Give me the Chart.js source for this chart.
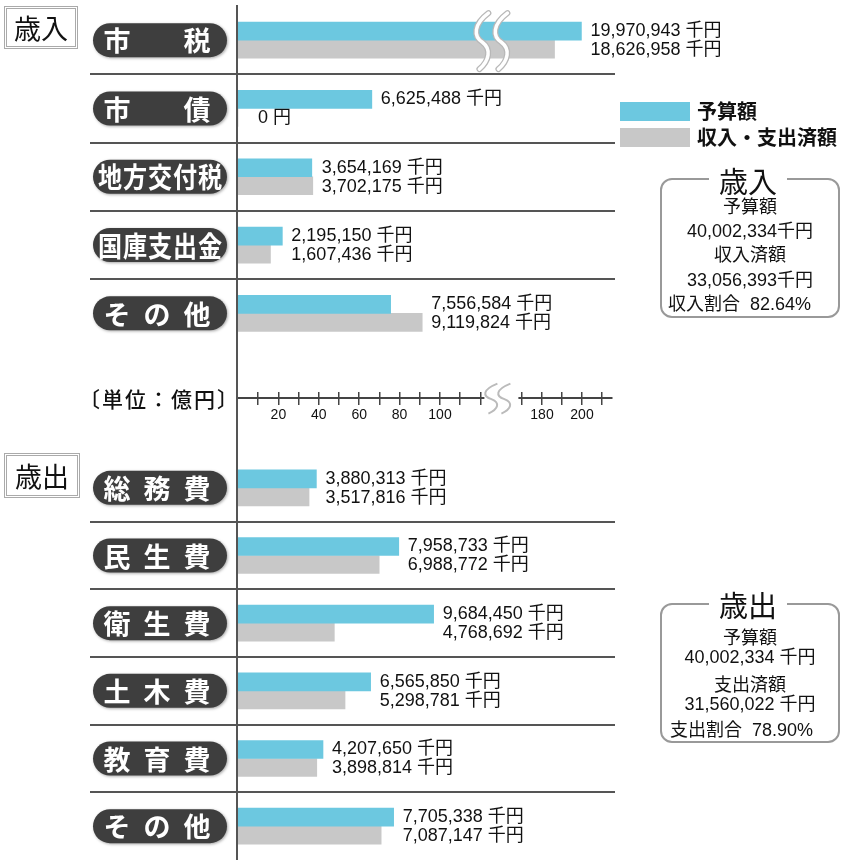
<!DOCTYPE html>
<html lang="ja">
<head>
<meta charset="utf-8">
<title>歳入・歳出</title>
<script src="https://cdn.jsdelivr.net/npm/chart.js@4.4.1/dist/chart.umd.min.js"></script>
<style>
	body { margin: 0; width: 845px; height: 860px; overflow: hidden; background: #fff; color: #111;
		font-family: "Liberation Sans", "Noto Sans CJK JP", sans-serif; }
	canvas { position: absolute; left: 0; }
	#revenueChart { top: 0; }
	#expenseChart { top: 450px; }
	.abs { position: absolute; white-space: pre; }
	.tag { position: absolute; left: 4px; box-sizing: border-box; border: 3px double #aaa; text-align: center;
		font: 27px "Noto Sans CJK JP"; }
	.swatch { position: absolute; left: 620px; width: 70px; height: 19px; }
	.legtext { position: absolute; left: 697px; font: bold 20px "Noto Sans CJK JP"; line-height: 24px; }
	.box { position: absolute; left: 660px; width: 180px; box-sizing: border-box; border: 2px solid #999;
		border-radius: 12px; }
	.boxtitle { position: absolute; font: 29px "Noto Sans CJK JP"; line-height: 30px; background: #fff; padding: 0 10px;
		transform: translateX(-50%); left: 748px; }
	.boxline { position: absolute; left: 660px; width: 180px; text-align: center; font-size: 18px; line-height: 20px;
		white-space: pre; }
</style>
</head>
<body>
<canvas id="revenueChart" width="845" height="450"></canvas>
<canvas id="expenseChart" width="845" height="410"></canvas>

<div class="tag" style="top:6px;width:74px;height:43px;line-height:37px">歳入</div>
<div class="tag" style="top:453px;width:76px;height:45px;line-height:39px">歳出</div>

<div class="abs" style="left:79px;top:386px;font:500 21px 'Noto Sans CJK JP';line-height:24px;letter-spacing:2px">〔単位：億円〕</div>

<div class="swatch" style="top:102px;background:#6cc8e0"></div>
<div class="legtext" style="top:99px">予算額</div>
<div class="swatch" style="top:128px;background:#c8c8c8"></div>
<div class="legtext" style="top:125px">収入・支出済額</div>

<div class="box" style="top:178px;height:140px"></div>
<div class="boxtitle" style="top:165px">歳入</div>
<div class="boxline" style="top:197px">予算額</div>
<div class="boxline" style="top:221px">40,002,334千円</div>
<div class="boxline" style="top:245px">収入済額</div>
<div class="boxline" style="top:270px">33,056,393千円</div>
<div class="boxline" style="top:294px;text-align:left;padding-left:8px;box-sizing:border-box">収入割合  82.64%</div>

<div class="box" style="top:603px;height:140px"></div>
<div class="boxtitle" style="top:589px">歳出</div>
<div class="boxline" style="top:628px">予算額</div>
<div class="boxline" style="top:647px">40,002,334 千円</div>
<div class="boxline" style="top:675px">支出済額</div>
<div class="boxline" style="top:694px">31,560,022 千円</div>
<div class="boxline" style="top:720px;text-align:left;padding-left:10px;box-sizing:border-box">支出割合  78.90%</div>

<script>
// values in 千円
const revenueCats = ["市税", "市債", "地方交付税", "国庫支出金", "その他"];
const revenueBudget = [19970943, 6625488, 3654169, 2195150, 7556584];
const revenueActual = [18626958, 0, 3702175, 1607436, 9119824];

const expenseCats = ["総務費", "民生費", "衛生費", "土木費", "教育費", "その他"];
const expenseBudget = [3880313, 7958733, 9684450, 6565850, 4207650, 7705338];
const expenseActual = [3517816, 6988772, 4768692, 5298781, 3898814, 7087147];

// axis in 億円, with a break between 120 and 170
const axisTicks = [10, 20, 30, 40, 50, 60, 70, 80, 90, 100, 110, 120, 170, 180, 190, 200, 210];
const axisLabels = [20, 40, 60, 80, 100, 180, 200];

const BLUE = "#6cc8e0";
const GRAY = "#c8c8c8";

// linear scale with a gap cut out of it
class BrokenScale extends Chart.LinearScale {
	static id = "broken";
	static defaults = Chart.LinearScale.defaults;
	toUnits(v) {
		const o = this.options;
		if (v <= o.breakFrom) return v * o.lowRate;
		return o.breakFrom * o.lowRate + o.gap + (Math.max(v, o.breakTo) - o.breakTo) * o.highRate;
	}
	getPixelForValue(v) {
		if (v === null || v === undefined || isNaN(v)) return NaN;
		return this.getPixelForDecimal(this.toUnits(v) / this.toUnits(this.options.max));
	}
	getValueForPixel(p) {
		const u = this.getDecimalForPixel(p) * this.toUnits(this.options.max);
		const o = this.options;
		const low = o.breakFrom * o.lowRate;
		if (u <= low) return u / o.lowRate;
		return o.breakTo + Math.max(0, u - low - o.gap) / o.highRate;
	}
}
Chart.register(BrokenScale);

const brokenOpts = {
	type: "broken",
	min: 0,
	max: 215,
	breakFrom: 120,
	breakTo: 170,
	lowRate: 2.02,
	highRate: 2.0,
	gap: 41.6,
	afterBuildTicks: (s) => { s.ticks = axisTicks.map((v) => ({ value: v })); },
	afterFit: (s) => { s.height = 0; },
};

const pillCenters = {
	2: [117, 197],
	3: [117, 157, 197],
	5: [110, 135, 160, 185, 210],
};

function drawPill(ctx, text, cy) {
	ctx.save();
	ctx.shadowColor = "rgba(0,0,0,0.35)";
	ctx.shadowBlur = 3;
	ctx.shadowOffsetX = 1;
	ctx.shadowOffsetY = 1;
	ctx.fillStyle = "#3e3e3e";
	ctx.beginPath();
	ctx.roundRect(93, cy - 17, 134, 34, 17);
	ctx.fill();
	ctx.restore();

	const chars = [...text];
	const xs = pillCenters[chars.length];
	ctx.save();
	ctx.fillStyle = "#fff";
	ctx.textAlign = "center";
	ctx.textBaseline = "middle";
	chars.forEach((ch, i) => {
		if (chars.length === 5) {
			ctx.save();
			ctx.translate(xs[i], cy + 1);
			ctx.scale(0.86, 1);
			ctx.font = 'bold 28px "Noto Sans CJK JP"';
			ctx.fillText(ch, 0, 0);
			ctx.restore();
		} else {
			ctx.font = 'bold 27px "Noto Sans CJK JP"';
			ctx.fillText(ch, xs[i], cy + 1);
		}
	});
	ctx.restore();
}

function sCurve(ctx, x, top, h) {
	ctx.beginPath();
	ctx.moveTo(x + 10, top);
	ctx.bezierCurveTo(x - 5, top + h * 0.2, x - 5, top + h * 0.42, x + 4, top + h * 0.52);
	ctx.bezierCurveTo(x + 13, top + h * 0.64, x + 11, top + h * 0.85, x + 1, top + h);
	ctx.stroke();
}

const decor = {
	id: "decor",
	beforeDatasetsDraw(chart, args, opts) {
		const ctx = chart.ctx;
		const y = chart.scales.y;
		const area = chart.chartArea;
		const n = chart.data.labels.length;
		ctx.save();
		// row separators
		ctx.strokeStyle = "#555";
		ctx.lineWidth = 2;
		for (let i = 0; i < n - 1; i++) {
			const sy = Math.round((y.getPixelForValue(i) + y.getPixelForValue(i + 1)) / 2);
			ctx.beginPath();
			ctx.moveTo(90, sy);
			ctx.lineTo(area.right + 3, sy);
			ctx.stroke();
		}
		// vertical line
		ctx.fillStyle = "#555";
		ctx.fillRect(area.left - 2, opts.lineTop, 2, chart.height - opts.lineTop);
		ctx.restore();
		chart.data.labels.forEach((lab, i) => drawPill(ctx, lab, y.getPixelForValue(i)));
	},
	afterDatasetsDraw(chart, args, opts) {
		const ctx = chart.ctx;
		const y = chart.scales.y;
		const x = chart.scales.x;
		const b = chart.getDatasetMeta(0).data;
		const a = chart.getDatasetMeta(1).data;
		const budget = chart.data.datasets[0].raw;
		const actual = chart.data.datasets[1].raw;
		ctx.save();
		ctx.fillStyle = "#111";
		ctx.font = '18px "Liberation Sans", "Noto Sans CJK JP"';
		ctx.textBaseline = "middle";
		chart.data.labels.forEach((lab, i) => {
			const cy = y.getPixelForValue(i);
			const ends = [];
			if (budget[i] > 0) ends.push(b[i].x);
			if (actual[i] > 0) ends.push(a[i].x);
			const end = Math.max(...ends);
			[[budget[i], cy - 9], [actual[i], cy + 10]].forEach(([v, ty]) => {
				const tx = v === 0 ? x.getPixelForValue(0) + 20 : end + 9;
				const txt = v === 0 ? "0 円" : v.toLocaleString("en-US") + " 千円";
				ctx.fillText(txt, tx, ty);
			});
		});

		if (opts.breaks) {
			// break marks across the first row's bars
			const cy = y.getPixelForValue(0);
			const bx = x.getPixelForValue(120);
			ctx.lineCap = "round";
			[bx - 2, bx + 17].forEach((sx) => {
				ctx.strokeStyle = "#b8b8b8";
				ctx.lineWidth = 6;
				sCurve(ctx, sx, cy - 27, 56);
				ctx.strokeStyle = "#fff";
				ctx.lineWidth = 3.5;
				sCurve(ctx, sx, cy - 27, 56);
			});
		}
		ctx.restore();
	},
	afterDraw(chart, args, opts) {
		if (!opts.breaks) return;
		const ctx = chart.ctx;
		const x = chart.scales.x;
		const ay = chart.scales.y.getPixelForValue(opts.axisAt);
		const bx = x.getPixelForValue(120);
		ctx.save();
		ctx.fillStyle = "#fff";
		ctx.fillRect(bx + 4, ay - 3, 34, 6);
		ctx.strokeStyle = "#bbb";
		ctx.lineWidth = 2;
		sCurve(ctx, bx + 7, ay - 14, 30);
		sCurve(ctx, bx + 20, ay - 14, 30);
		ctx.restore();
	},
};

function buildChart(id, cats, budget, actual, withAxis, padTop, padBottom, lineTop) {
	const axisAt = 5.233;
	const scales = {
		x: Object.assign({}, brokenOpts, {
			display: withAxis,
			position: { y: axisAt },
			border: { display: true, color: "#444", width: 2 },
			grid: { drawOnChartArea: false, drawTicks: true, tickLength: 6, color: "#444", lineWidth: 1.5 },
			ticks: {
				autoSkip: false,
				maxRotation: 0,
				padding: 3,
				color: "#111",
				font: { family: "Liberation Sans", size: 14 },
				callback: (v) => (axisLabels.includes(v) ? String(v) : ""),
			},
		}),
		y: { type: "category", display: false, offset: true },
	};
	if (withAxis) {
		scales.x2 = Object.assign({}, brokenOpts, {
			position: { y: axisAt },
			border: { display: false },
			grid: { drawOnChartArea: false, drawTicks: true, tickLength: -6, color: "#444", lineWidth: 1.5 },
			ticks: { display: false },
		});
	}
	return new Chart(document.getElementById(id), {
		type: "bar",
		data: {
			labels: cats,
			datasets: [
				{ label: "予算額", raw: budget, data: budget.map((v) => v / 100000), backgroundColor: BLUE, xAxisID: "x" },
				{ label: "収入・支出済額", raw: actual, data: actual.map((v) => v / 100000), backgroundColor: GRAY, xAxisID: "x" },
			],
		},
		options: {
			indexAxis: "y",
			responsive: false,
			animation: false,
			events: [],
			barThickness: 18,
			layout: { padding: { left: 238, right: 233, top: padTop, bottom: padBottom } },
			scales: scales,
			plugins: {
				legend: { display: false },
				tooltip: { enabled: false },
				decor: { breaks: withAxis, axisAt: axisAt, lineTop: lineTop },
			},
		},
		plugins: [decor],
	});
}

buildChart("revenueChart", revenueCats, revenueBudget, revenueActual, true, 6, 102.5, 5);
buildChart("expenseChart", expenseCats, expenseBudget, expenseActual, false, 4, 0, 0);
</script>
</body>
</html>
